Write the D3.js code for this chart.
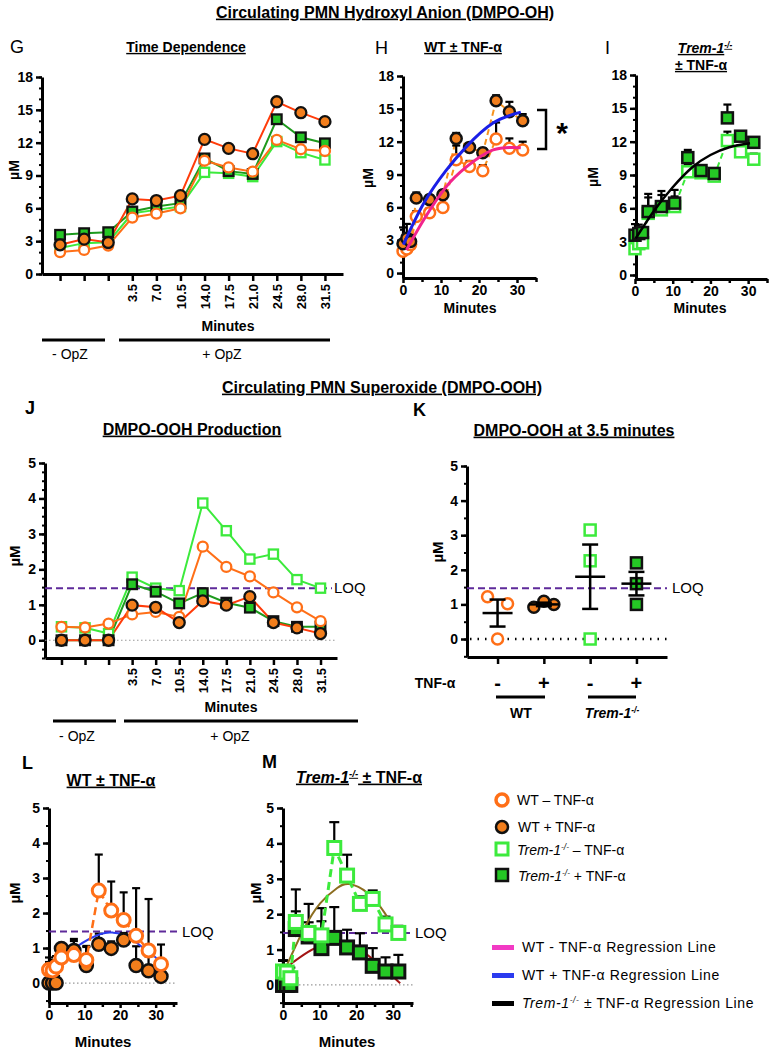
<!DOCTYPE html>
<html>
<head>
<meta charset="utf-8">
<script src="https://cdn.jsdelivr.net/npm/d3@7"></script>
<style>body{margin:0;background:#fff} svg{display:block}</style>
</head>
<body>
<script>
const FONT = "'Liberation Sans', Arial, Helvetica, sans-serif";

// ---------- data ----------
const minutes = [0, 1, 2, 3.5, 7, 10.5, 14, 17.5, 21, 24.5, 28, 31.5];
const catLabels = ['', '', '', '3.5', '7.0', '10.5', '14.0', '17.5', '21.0', '24.5', '28.0', '31.5'];

// hydroxyl anion (DMPO-OH), µM
const ohWtMinus   = [2.0, 2.2, 2.6, 5.16, 5.52, 6.0, 10.35, 9.74, 9.35, 12.25, 11.4, 11.24];
const ohWtPlus    = [2.67, 3.19, 2.88, 6.86, 6.71, 7.16, 12.3, 11.48, 10.99, 15.74, 14.74, 13.92];
const ohTremMinus = [2.37, 2.82, 2.9, 5.55, 5.86, 6.16, 9.29, 9.2, 8.9, 12.1, 11.09, 10.42];
const ohTremPlus  = [3.58, 3.73, 3.82, 5.71, 6.16, 6.47, 10.56, 9.4, 9.14, 14.14, 12.49, 11.94];
const ohWtMinusErr   = [0.4, 0.4, 0.3, 0.5, 0.4, 0.4, 1.3, 0.5, 0.5, 1.5, 0.9, 0.76];
const ohWtPlusErr    = [1.5, 1.3, 0.6, 0.5, 0.4, 0.4, 0.5, 0.4, 0.4, 0.5, 0.9, 0.6];
const ohTremMinusErr = [0.6, 0.5, 0.5, 1.75, 1.7, 1.5, 0.6, 0.5, 0.5, 0.8, 0.6, 0.5];
const ohTremPlusErr  = [1.0, 0.8, 0.5, 1.27, 1.04, 0.6, 0.7, 0.4, 0.3, 1.2, 0.4, 0.3];

// superoxide (DMPO-OOH), µM
const ooWtMinus   = [0.38, 0.36, 0.47, 0.73, 0.80, 0.66, 2.64, 2.07, 1.80, 1.35, 0.93, 0.54];
const ooWtPlus    = [0, 0, 0, 0.99, 0.93, 0.50, 1.11, 0.99, 1.23, 0.50, 0.35, 0.19];
const ooTremMinus = [0.38, 0.35, 0.19, 1.78, 1.47, 1.40, 3.87, 3.09, 2.29, 2.43, 1.71, 1.47];
const ooTremPlus  = [0, 0, 0, 1.58, 1.37, 1.04, 1.33, 1.06, 0.92, 0.54, 0.38, 0.38];
const ooWtMinusErr   = [0.35, 0.3, 0.3, 0.32, 0.4, 0.4, 1.03, 0.83, 0.79, 1.36, 1.47, 0.56];
const ooWtPlusErr    = [0.6, 0.3, 0.2, 0.1, 0.33, 0.53, 0.3, 0.2, 0.2, 0.55, 0.41, 0.16];
const ooTremMinusErr = [0.3, 0.2, 0.3, 0.3, 0.3, 0.4, 0.73, 0.59, 0.21, 0.24, 0.22, 0.2];
const ooTremPlusErr  = [0.7, 0.4, 0.3, 1.12, 0.92, 1.13, 0.87, 0.5, 0.54, 0.5, 0.4, 0.47];
const LOQ = 1.47;

// DMPO-OOH at 3.5 minutes
const kGroups = ['WT', 'WT', 'Trem', 'Trem'];
const kTnf = ['-', '+', '-', '+'];
const kPoints = [[1.22, 1.02, 0], [0.92, 1.09, 1.0], [3.15, 2.26, 0], [2.2, 1.6, 1.0]];
const kMean = [0.75, 1.0, 1.8, 1.6];
const kSem = [0.39, 0.05, 0.93, 0.34];

// regression lines, [minutes, µM]
const regOhWtMinus = [[0.9, 2.1], [5.5, 4.9], [11.4, 7.9], [16.7, 9.7], [23.7, 11.25], [31, 11.45]];
const regOhWtPlus  = [[0.1, 2.6], [5.5, 6.4], [11.4, 9.4], [16.7, 11.55], [23.7, 13.7], [31, 14.7]];
const regOhTrem    = [[0.2, 3.3], [5.1, 5.8], [10, 7.9], [15.2, 9.7], [20, 10.8], [25, 11.5], [30.5, 11.85]];
const regOoWtPlus  = [[2, 0.5], [8, 1.05], [14.5, 1.4], [18, 1.44], [22, 1.35], [25.9, 1.05], [29.7, 0.76], [31.5, 0.55]];
const regOoTremMinus = [[0.9, 0.52], [5.6, 1.56], [10.2, 2.31], [14.8, 2.74], [18.1, 2.85], [23.1, 2.6], [27.8, 2.03], [32, 1.27]];
const regOoTremPlus  = [[0.9, 0.5], [5.6, 0.85], [10.2, 1.1], [15.7, 1.2], [20.4, 1.04], [25.9, 0.61], [32, 0.05]];

// ---------- styles ----------
const ORANGE = '#ff6f17', RED_OR = '#ff3c0a', FILL_OR = '#f27e1c';
const LIME = '#3cea3c', DKGREEN = '#1d9a1d', FILL_GR = '#25c825';
const PURPLE = '#5e2a9a';

const svg = d3.select('body').append('svg')
  .attr('width', 771).attr('height', 1050)
  .style('font-family', FONT);

function txt(x, y, s, size, opt = {}) {
  const t = svg.append('text')
    .attr('x', x).attr('y', y).attr('dy', '0.35em')
    .attr('text-anchor', opt.anchor || 'middle')
    .attr('font-size', size)
    .attr('font-weight', opt.weight || 'bold')
    .attr('fill', '#000');
  if (opt.underline) t.style('text-decoration', 'underline');
  if (opt.rotate) t.attr('transform', `rotate(-90,${x},${y})`);
  if (opt.spacing) t.attr('letter-spacing', opt.spacing);
  if (s != null) t.text(s);
  return t;
}
// italic Trem-1 with -/- superscript, followed by plain text
function trem(t, rest) {
  t.append('tspan').attr('font-style', 'italic').text('Trem-1');
  t.append('tspan').attr('font-style', 'italic').attr('font-size', '0.6em').attr('dy', '-0.6em').text('-/-');
  t.append('tspan').attr('dy', '0.36em').text(rest);
  return t;
}

function styleAxis(g, fs = 14) {
  g.select('.domain').attr('stroke-width', 3);
  g.selectAll('.tick line').attr('stroke-width', 2.5);
  g.selectAll('.tick text').attr('font-family', FONT).attr('font-weight', 'bold')
    .attr('font-size', fs).attr('fill', '#000');
}
function yAxis(y, x0, major, minor) {
  svg.append('g').attr('transform', `translate(${x0},0)`)
    .call(d3.axisLeft(y).tickValues(minor).tickSize(3).tickSizeOuter(0).tickFormat(''))
    .call(g => { g.select('.domain').remove(); g.selectAll('line').attr('stroke-width', 2); });
  svg.append('g').attr('transform', `translate(${x0},0)`)
    .call(d3.axisLeft(y).tickValues(major).tickSize(6).tickSizeOuter(0).tickPadding(3).tickFormat(d3.format('d')))
    .call(g => styleAxis(g));
}
function xAxisLinear(x, y0) {
  svg.append('g').attr('transform', `translate(0,${y0})`)
    .call(d3.axisBottom(x).tickValues([5, 15, 25, 35]).tickSize(4).tickSizeOuter(0).tickFormat(''))
    .call(g => { g.select('.domain').remove(); g.selectAll('line').attr('stroke-width', 2.5); });
  svg.append('g').attr('transform', `translate(0,${y0})`)
    .call(d3.axisBottom(x).tickValues([0, 10, 20, 30]).tickSize(5).tickSizeOuter(0).tickPadding(2).tickFormat(d3.format('d')))
    .call(g => styleAxis(g, 14));
}
function xAxisCats(x, y0) {
  svg.append('g').attr('transform', `translate(0,${y0})`)
    .call(d3.axisBottom(x).tickFormat(i => catLabels[i]).tickSize(7).tickSizeOuter(0))
    .call(g => styleAxis(g, 13))
    .call(g => g.selectAll('.tick text')
      .attr('transform', 'rotate(-90)').attr('text-anchor', 'end')
      .attr('x', -10).attr('y', 0).attr('dy', '0.35em'));
}

function markers(vals, xf, y, shape, st) {
  const g = svg.append('g');
  if (shape === 'circle') {
    g.selectAll('circle').data(vals).join('circle')
      .attr('cx', (d, i) => xf(i)).attr('cy', d => y(d)).attr('r', st.r)
      .attr('fill', st.fill).attr('stroke', st.stroke).attr('stroke-width', st.sw);
  } else {
    g.selectAll('rect').data(vals).join('rect')
      .attr('x', (d, i) => xf(i) - st.r).attr('y', d => y(d) - st.r)
      .attr('width', st.r * 2).attr('height', st.r * 2)
      .attr('fill', st.fill).attr('stroke', st.stroke).attr('stroke-width', st.sw);
  }
}
function seriesLine(vals, xf, y, color, w, dash) {
  svg.append('path').datum(vals)
    .attr('d', d3.line().x((d, i) => xf(i)).y(d => y(d)))
    .attr('fill', 'none').attr('stroke', color).attr('stroke-width', w)
    .attr('stroke-dasharray', dash || null);
}
function errBars(vals, errs, xf, y, cap) {
  const g = svg.append('g').attr('stroke', '#000').attr('stroke-width', 2.2);
  const d = vals.map((v, i) => ({ x: xf(i), v, e: errs[i] })).filter(d => d.e > 0);
  g.selectAll('.v').data(d).join('line').attr('class', 'v')
    .attr('x1', d => d.x).attr('x2', d => d.x).attr('y1', d => y(d.v)).attr('y2', d => y(d.v + d.e));
  g.selectAll('.c').data(d).join('line').attr('class', 'c')
    .attr('x1', d => d.x - cap).attr('x2', d => d.x + cap).attr('y1', d => y(d.v + d.e)).attr('y2', d => y(d.v + d.e));
}
function regLine(pts, x, y, color, w) {
  svg.append('path').datum(pts)
    .attr('d', d3.line().x(d => x(d[0])).y(d => y(d[1])).curve(d3.curveNatural))
    .attr('fill', 'none').attr('stroke', color).attr('stroke-width', w);
}
function loq(x1, x2, y, textX) {
  svg.append('line').attr('x1', x1).attr('x2', x2).attr('y1', y(LOQ)).attr('y2', y(LOQ))
    .attr('stroke', PURPLE).attr('stroke-width', 2).attr('stroke-dasharray', '7,4');
  txt(textX, y(LOQ), 'LOQ', 15, { anchor: 'start', weight: 'normal' });
}
function zeroLine(x1, x2, y, color, w, dash) {
  svg.append('line').attr('x1', x1).attr('x2', x2).attr('y1', y(0)).attr('y2', y(0))
    .attr('stroke', color).attr('stroke-width', w).attr('stroke-dasharray', dash);
}

const stOpenCirc = { r: 5, fill: '#fff', stroke: ORANGE, sw: 2.3 };
const stFillCirc = { r: 5.5, fill: FILL_OR, stroke: '#111', sw: 2.3 };
const stOpenSq = { r: 4.6, fill: '#fff', stroke: LIME, sw: 2.3 };
const stFillSq = { r: 4.8, fill: FILL_GR, stroke: '#111', sw: 2.3 };

// ---------- titles ----------
txt(385, 12, 'Circulating PMN Hydroxyl Anion (DMPO-OH)', 16, { underline: true });
txt(382, 387, 'Circulating PMN Superoxide (DMPO-OOH)', 16, { underline: true });

// ---------- G: time dependence ----------
{
  const x = d3.scalePoint().domain(d3.range(12)).range([42, 343]).padding(0.75);
  const y = d3.scaleLinear().domain([0, 18]).range([274, 77]);
  txt(10, 47, 'G', 18, { anchor: 'start', weight: 'normal' });
  txt(186, 47, 'Time Dependence', 14, { underline: true });
  yAxis(y, 42, d3.range(0, 19, 3), d3.range(0, 19, 1));
  xAxisCats(x, 274);
  txt(14, 170, 'µM', 14, { rotate: true });
  txt(228, 326, 'Minutes', 14);
  const xf = i => x(i);
  seriesLine(ohTremMinus, xf, y, LIME, 2);
  seriesLine(ohTremPlus, xf, y, DKGREEN, 2);
  seriesLine(ohWtMinus, xf, y, ORANGE, 2);
  seriesLine(ohWtPlus, xf, y, RED_OR, 2);
  markers(ohTremMinus, xf, y, 'square', stOpenSq);
  markers(ohTremPlus, xf, y, 'square', stFillSq);
  markers(ohWtMinus, xf, y, 'circle', stOpenCirc);
  markers(ohWtPlus, xf, y, 'circle', stFillCirc);
  svg.append('line').attr('x1', 42).attr('x2', 105).attr('y1', 340).attr('y2', 340).attr('stroke', '#000').attr('stroke-width', 3);
  svg.append('line').attr('x1', 119).attr('x2', 330).attr('y1', 340).attr('y2', 340).attr('stroke', '#000').attr('stroke-width', 3);
  txt(70, 354, '- OpZ', 14, { weight: 'normal' });
  txt(222, 354, '+ OpZ', 14, { weight: 'normal' });
}

// ---------- H: WT ± TNF-α ----------
{
  const x = d3.scaleLinear().domain([0, 35]).range([403, 536]);
  const y = d3.scaleLinear().domain([-0.45, 18]).range([278, 76]);
  txt(375, 48, 'H', 18, { anchor: 'start', weight: 'normal' });
  txt(463, 47, 'WT ± TNF-α', 14, { underline: true });
  yAxis(y, 403, d3.range(0, 19, 3), d3.range(0, 19, 1));
  xAxisLinear(x, 278);
  txt(368, 178, 'µM', 14, { rotate: true });
  txt(470, 308, 'Minutes', 14);
  const xf = i => x(minutes[i]);
  seriesLine(ohWtMinus, xf, y, '#f7931e', 2, '6,4');
  seriesLine(ohWtPlus, xf, y, '#f7931e', 2, '6,4');
  errBars(ohWtMinus, ohWtMinusErr, xf, y, 4);
  errBars(ohWtPlus, ohWtPlusErr, xf, y, 4);
  markers(ohWtMinus, xf, y, 'circle', { r: 5.5, fill: '#fff', stroke: ORANGE, sw: 2.5 });
  markers(ohWtPlus, xf, y, 'circle', { r: 5.5, fill: FILL_OR, stroke: '#111', sw: 2.5 });
  regLine(regOhWtMinus, x, y, '#f2248c', 3);
  regLine(regOhWtPlus, x, y, '#1a1fe6', 3);
  svg.append('path').attr('d', 'M537,110H546V149H537').attr('fill', 'none')
    .attr('stroke', '#000').attr('stroke-width', 2.5);
  txt(562, 132, '*', 30);
}

// ---------- I: Trem-1-/- ± TNF-α ----------
{
  const x = d3.scaleLinear().domain([0, 35]).range([635, 767]);
  const y = d3.scaleLinear().domain([-0.36, 18]).range([279, 75]);
  txt(605, 48, 'I', 18, { anchor: 'start', weight: 'normal' });
  trem(txt(705, 48, null, 14, { underline: true }), '');
  txt(701, 65, '± TNF-α', 14, { underline: true });
  yAxis(y, 636, d3.range(0, 19, 3), d3.range(0, 19, 1));
  xAxisLinear(x, 279);
  txt(593, 177, 'µM', 14, { rotate: true });
  txt(700, 308, 'Minutes', 14);
  const xf = i => x(minutes[i]);
  seriesLine(ohTremMinus, xf, y, LIME, 2, '6,4');
  errBars(ohTremMinus, ohTremMinusErr, xf, y, 4);
  errBars(ohTremPlus, ohTremPlusErr, xf, y, 4);
  markers(ohTremMinus, xf, y, 'square', { r: 5.5, fill: '#fff', stroke: LIME, sw: 2.5 });
  markers(ohTremPlus, xf, y, 'square', { r: 5.5, fill: FILL_GR, stroke: '#111', sw: 2.5 });
  regLine(regOhTrem, x, y, '#000', 2.5);
}

// ---------- J: DMPO-OOH production ----------
{
  const x = d3.scalePoint().domain(d3.range(12)).range([45, 337]).padding(0.7);
  const y = d3.scaleLinear().domain([-0.5, 5]).range([658, 463]);
  txt(25, 408, 'J', 18, { anchor: 'start' });
  txt(192, 429, 'DMPO-OOH Production', 16, { underline: true });
  yAxis(y, 45, d3.range(0, 6, 1), d3.range(-0.5, 5.01, 0.25));
  xAxisCats(x, 658);
  txt(15, 556, 'µM', 15, { rotate: true });
  txt(231, 707, 'Minutes', 14);
  zeroLine(45, 337, y, '#999', 1.2, '1.5,2.5');
  loq(45, 332, y, 334);
  const xf = i => x(i);
  seriesLine(ooTremMinus, xf, y, LIME, 2);
  seriesLine(ooTremPlus, xf, y, DKGREEN, 2);
  seriesLine(ooWtMinus, xf, y, ORANGE, 2);
  seriesLine(ooWtPlus, xf, y, RED_OR, 2);
  markers(ooTremMinus, xf, y, 'square', stOpenSq);
  markers(ooTremPlus, xf, y, 'square', stFillSq);
  markers(ooWtMinus, xf, y, 'circle', stOpenCirc);
  markers(ooWtPlus, xf, y, 'circle', stFillCirc);
  svg.append('line').attr('x1', 53).attr('x2', 116).attr('y1', 721).attr('y2', 721).attr('stroke', '#000').attr('stroke-width', 3);
  svg.append('line').attr('x1', 124).attr('x2', 358).attr('y1', 721).attr('y2', 721).attr('stroke', '#000').attr('stroke-width', 3);
  txt(77, 736, '- OpZ', 14, { weight: 'normal' });
  txt(230, 736, '+ OpZ', 14, { weight: 'normal' });
}

// ---------- K: DMPO-OOH at 3.5 minutes ----------
{
  const x = d3.scalePoint().domain(d3.range(4)).range([467, 667]).padding(0.66);
  const y = d3.scaleLinear().domain([-0.52, 5]).range([657, 466]);
  const jitter = [[-10, 10, 0], [-10, 0, 10], [0, 0, 0], [0, 0, 0]];
  txt(413, 410, 'K', 18, { anchor: 'start' });
  txt(574, 430, 'DMPO-OOH at 3.5 minutes', 16, { underline: true });
  yAxis(y, 467, d3.range(0, 6, 1), d3.range(-0.5, 5.01, 0.5));
  svg.append('g').attr('transform', 'translate(0,657)')
    .call(d3.axisBottom(x).tickSize(7).tickSizeOuter(0).tickFormat(''))
    .call(g => styleAxis(g));
  txt(438, 552, 'µM', 15, { rotate: true });
  zeroLine(470, 667, y, '#000', 2.5, '1.5,6');
  loq(467, 667, y, 672);
  kPoints.forEach((pts, c) => {
    const g = svg.append('g');
    const open = kTnf[c] === '-';
    const isWT = kGroups[c] === 'WT';
    const col = isWT ? ORANGE : LIME;
    const fill = open ? '#fff' : (isWT ? FILL_OR : FILL_GR);
    const stroke = open ? col : '#111';
    if (isWT) {
      g.selectAll('circle').data(pts).join('circle')
        .attr('cx', (d, i) => x(c) + jitter[c][i]).attr('cy', d => y(d)).attr('r', 5.5)
        .attr('fill', fill).attr('stroke', stroke).attr('stroke-width', 2.5);
    } else {
      g.selectAll('rect').data(pts).join('rect')
        .attr('x', (d, i) => x(c) + jitter[c][i] - 5.5).attr('y', d => y(d) - 5.5)
        .attr('width', 11).attr('height', 11)
        .attr('fill', fill).attr('stroke', stroke).attr('stroke-width', 2.5);
    }
  });
  const eb = svg.append('g').attr('stroke', '#000').attr('stroke-width', 2.5);
  eb.selectAll('.m').data(kMean).join('line').attr('class', 'm')
    .attr('x1', (d, i) => x(i) - 15).attr('x2', (d, i) => x(i) + 15).attr('y1', d => y(d)).attr('y2', d => y(d));
  eb.selectAll('.v').data(kMean).join('line').attr('class', 'v')
    .attr('x1', (d, i) => x(i)).attr('x2', (d, i) => x(i))
    .attr('y1', (d, i) => y(d - kSem[i])).attr('y2', (d, i) => y(d + kSem[i]));
  [1, -1].forEach(s => {
    eb.selectAll('.c' + (s > 0 ? 'u' : 'd')).data(kMean).join('line').attr('class', 'c' + (s > 0 ? 'u' : 'd'))
      .attr('x1', (d, i) => x(i) - 8).attr('x2', (d, i) => x(i) + 8)
      .attr('y1', (d, i) => y(d + s * kSem[i])).attr('y2', (d, i) => y(d + s * kSem[i]));
  });
  txt(435, 683, 'TNF-α', 14);
  kTnf.forEach((s, i) => txt(x(i), 683, s, 20));
  svg.append('line').attr('x1', 496).attr('x2', 545).attr('y1', 697).attr('y2', 697).attr('stroke', '#000').attr('stroke-width', 3);
  svg.append('line').attr('x1', 588).attr('x2', 636).attr('y1', 697).attr('y2', 697).attr('stroke', '#000').attr('stroke-width', 3);
  txt(521, 713, 'WT', 14);
  trem(txt(612, 713, null, 14), '');
}

// ---------- L: WT ± TNF-α (DMPO-OOH) ----------
{
  const x = d3.scaleLinear().domain([0, 36]).range([49, 177]);
  const y = d3.scaleLinear().domain([-0.57, 5]).range([1003, 808]);
  txt(22, 763, 'L', 18, { anchor: 'start' });
  txt(111, 780, 'WT ± TNF-α', 16, { underline: true });
  yAxis(y, 49, d3.range(0, 6, 1), d3.range(-0.5, 5.01, 0.5));
  xAxisLinear(x, 1003);
  txt(15, 893, 'µM', 15, { rotate: true });
  txt(103, 1042, 'Minutes', 15);
  zeroLine(49, 177, y, '#999', 1.2, '1.5,2.5');
  loq(49, 177, y, 182);
  const xf = i => x(minutes[i]);
  errBars(ooWtMinus, ooWtMinusErr, xf, y, 4);
  errBars(ooWtPlus, ooWtPlusErr, xf, y, 4);
  regLine(regOoWtPlus, x, y, '#2b3bef', 2);
  seriesLine(ooWtMinus, xf, y, ORANGE, 2.5, '8,5');
  markers(ooWtPlus, xf, y, 'circle', { r: 6.5, fill: FILL_OR, stroke: '#111', sw: 2.5 });
  markers(ooWtMinus, xf, y, 'circle', { r: 6.5, fill: '#fff', stroke: ORANGE, sw: 3 });
}

// ---------- M: Trem-1-/- ± TNF-α (DMPO-OOH) ----------
{
  const x = d3.scaleLinear().domain([0, 35.5]).range([283, 413]);
  const y = d3.scaleLinear().domain([-0.51, 5]).range([1003, 808]);
  txt(262, 762, 'M', 18, { anchor: 'start' });
  trem(txt(359, 777, null, 16, { underline: true }), ' ± TNF-α');
  yAxis(y, 283, d3.range(0, 6, 1), d3.range(-0.5, 5.01, 0.5));
  xAxisLinear(x, 1003);
  txt(256, 893, 'µM', 15, { rotate: true });
  txt(347, 1042, 'Minutes', 15);
  zeroLine(283, 413, y, '#999', 1.2, '1.5,2.5');
  loq(283, 410, y, 415);
  const xf = i => x(minutes[i]);
  errBars(ooTremMinus, ooTremMinusErr, xf, y, 5);
  errBars(ooTremPlus, ooTremPlusErr, xf, y, 5);
  regLine(regOoTremMinus, x, y, '#8c6d1f', 2);
  regLine(regOoTremPlus, x, y, '#a31515', 2);
  seriesLine(ooTremMinus, xf, y, LIME, 3, '8,5');
  markers(ooTremPlus, xf, y, 'square', { r: 6.5, fill: FILL_GR, stroke: '#111', sw: 3 });
  markers(ooTremMinus, xf, y, 'square', { r: 6.5, fill: '#fff', stroke: LIME, sw: 3 });
}

// ---------- legend ----------
{
  const lg = svg.append('g');
  lg.append('circle').attr('cx', 502).attr('cy', 800).attr('r', 6).attr('fill', '#fff').attr('stroke', ORANGE).attr('stroke-width', 3.5);
  lg.append('circle').attr('cx', 502).attr('cy', 827).attr('r', 6).attr('fill', FILL_OR).attr('stroke', '#111').attr('stroke-width', 2.5);
  lg.append('rect').attr('x', 496).attr('y', 843).attr('width', 12).attr('height', 12).attr('fill', '#fff').attr('stroke', LIME).attr('stroke-width', 3);
  lg.append('rect').attr('x', 496).attr('y', 869).attr('width', 12).attr('height', 12).attr('fill', FILL_GR).attr('stroke', '#111').attr('stroke-width', 2.5);
  txt(517, 800, 'WT – TNF-α', 14, { anchor: 'start', weight: 'normal' });
  txt(518, 827, 'WT + TNF-α', 14, { anchor: 'start', weight: 'normal' });
  trem(txt(517, 850, null, 14, { anchor: 'start', weight: 'normal' }), ' – TNF-α');
  trem(txt(518, 876, null, 14, { anchor: 'start', weight: 'normal' }), ' + TNF-α');
  lg.append('rect').attr('x', 492).attr('y', 945).attr('width', 22).attr('height', 5).attr('fill', '#f23ac4');
  lg.append('rect').attr('x', 492).attr('y', 973).attr('width', 22).attr('height', 5).attr('fill', '#2b3bef');
  lg.append('rect').attr('x', 492).attr('y', 1001).attr('width', 22).attr('height', 5).attr('fill', '#000');
  txt(522, 947, 'WT - TNF-α Regression Line', 14, { anchor: 'start', weight: 'normal', spacing: 0.6 });
  txt(522, 975, 'WT + TNF-α Regression Line', 14, { anchor: 'start', weight: 'normal', spacing: 0.6 });
  trem(txt(522, 1003, null, 14, { anchor: 'start', weight: 'normal', spacing: 0.6 }), ' ± TNF-α Regression Line');
}
</script>
</body>
</html>
